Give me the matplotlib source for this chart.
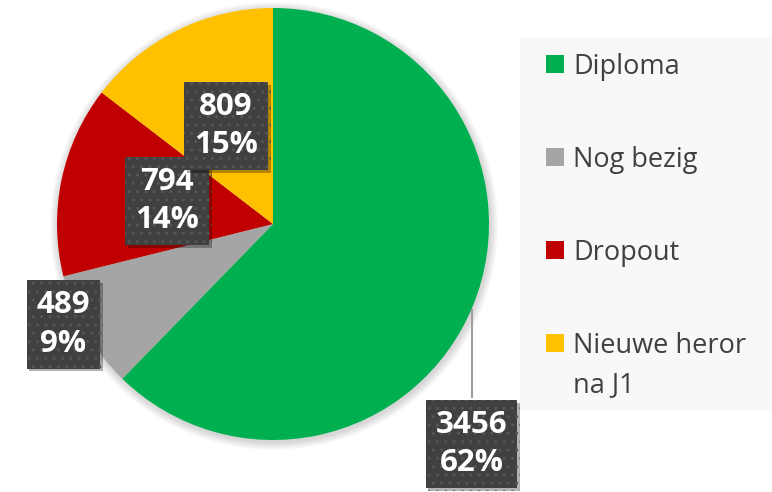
import matplotlib
matplotlib.use('Agg')
import numpy as np
import matplotlib.pyplot as plt
from matplotlib.patches import Rectangle, Circle
import matplotlib.patheffects as pe

# ---- data ----
categories = ['Diploma', 'Nog bezig', 'Dropout', 'Nieuwe heror\nna J1']
values = [3456, 489, 794, 809]
percent_labels = ['62%', '9%', '14%', '15%']
colors = ['#00B050', '#A5A5A5', '#C00000', '#FFC000']

W, H = 772, 492
fig = plt.figure(figsize=(W / 100, H / 100), dpi=100)
ax = fig.add_axes([0, 0, 1, 1])

def Y(py):
    return H - py

cx, cy, r = 273, Y(224), 216

# soft shadow around pie
for k in range(8, 0, -1):
    ax.add_patch(Circle((cx + 1, cy - 2), r + k, color='black', alpha=0.018, lw=0, zorder=0))

wedges, _ = ax.pie(values, colors=colors, startangle=90, counterclock=False,
                   center=(cx, cy), radius=r, wedgeprops=dict(linewidth=0, zorder=1))
ax.set_xlim(0, W)
ax.set_ylim(0, H)
ax.set_aspect('equal')
ax.axis('off')

# ---- data labels ----
label_pos = [(471.5, 444), (63.5, 324.5), (167, 201), (226, 126)]
font_lbl = dict(family=['Open Sans', 'DejaVu Sans'], weight='bold', size=22.5)

# leader line for the Diploma label
lx, ly = label_pos[0]
dy = np.sqrt(r ** 2 - (lx - cx) ** 2)
ax.plot([lx, lx], [cy - dy, Y(398)], color='#A0A0A0', lw=1.5, zorder=2, solid_capstyle='butt')

for i, (v, p) in enumerate(zip(values, percent_labels)):
    x, y = label_pos[i]
    t = ax.text(x, Y(y), f'{v}\n{p}', ha='center', va='center', color='white',
                linespacing=1.36, zorder=5 + i, **font_lbl,
                bbox=dict(boxstyle='square,pad=0.32', facecolor='#404040',
                          edgecolor='#555555', linewidth=0, hatch='..'))
    t.get_bbox_patch().set_path_effects([
        pe.SimplePatchShadow(offset=(2, -2), shadow_rgbFace='black', alpha=0.3),
        pe.Normal()])

# ---- legend (manual) ----
ax.add_patch(Rectangle((520, Y(410)), W - 520, 410 - 37, facecolor='#F8F8F8',
                       edgecolor='none', zorder=1))
row_base = [74, 167, 260, 353]
font_leg = dict(family=['Open Sans', 'DejaVu Sans'], size=19.5, color='#404040')
for cat, col, b in zip(categories, colors, row_base):
    cyc = b - 10
    ax.add_patch(Rectangle((546, Y(cyc + 9)), 18, 18, facecolor=col, edgecolor='none', zorder=3))
    for j, line in enumerate(cat.split('\n')):
        ax.text(573, Y(b + j * 39), line, ha='left', va='baseline', zorder=3, **font_leg)

fig.savefig('out.png', dpi=100)
